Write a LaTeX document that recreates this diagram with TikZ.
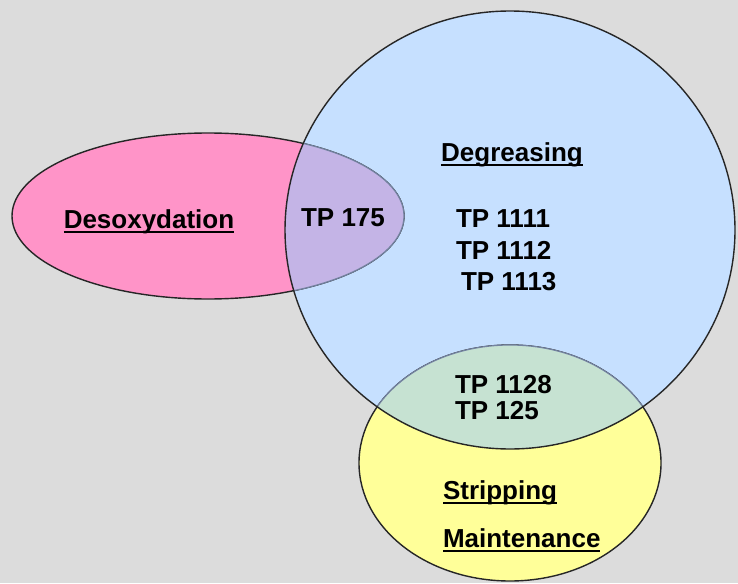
\documentclass[tikz,border=0pt]{standalone}
\usepackage{fontspec}
\setmainfont{Liberation Sans}
\definecolor{bg}{RGB}{220,220,220}
\definecolor{pinkf}{RGB}{255,148,200}
\definecolor{bluef}{RGB}{198,224,255}
\definecolor{yellowf}{RGB}{255,255,153}
\definecolor{purplef}{RGB}{196,180,230}
\definecolor{greenf}{RGB}{198,226,210}
\definecolor{innerline}{RGB}{115,130,160}
\begin{document}
\begin{tikzpicture}[x=1pt,y=-1pt,
  lbl/.style={font=\fontsize{26}{30}\selectfont\bfseries, inner sep=0pt, outer sep=0pt},
  uline/.style={line width=2.2pt, black},
  outline/.style={line width=1.4pt, black!85},
  inline/.style={line width=1.2pt, innerline}]
\fill[bg] (0,0) rectangle (738,583);
\useasboundingbox (0,0) rectangle (738,583);
% fills
\fill[pinkf] (208,216) ellipse [x radius=196, y radius=83];
\fill[bluef] (510,230) ellipse [x radius=225, y radius=219];
\fill[yellowf] (510,463) ellipse [x radius=151, y radius=118];
\draw[outline] (208,216) ellipse [x radius=196, y radius=83];
\draw[outline] (510,463) ellipse [x radius=151, y radius=118];
\begin{scope}
  \clip (510,230) ellipse [x radius=225, y radius=219];
  \fill[purplef] (208,216) ellipse [x radius=196, y radius=83];
  \fill[greenf] (510,463) ellipse [x radius=151, y radius=118];
  \draw[inline] (208,216) ellipse [x radius=196, y radius=83];
  \draw[inline] (510,463) ellipse [x radius=151, y radius=118];
\end{scope}
\draw[outline] (510,230) ellipse [x radius=225, y radius=219];
% labels
\node[lbl, anchor=base] (deso) at (149,228) {Desoxydation};
\draw[uline] ([yshift=-4pt]deso.base west) -- ([yshift=-4pt]deso.base east);
\node[lbl, anchor=base] (tp175) at (343,226) {TP 175};
\node[lbl, anchor=base] (degr) at (512,161) {Degreasing};
\draw[uline] ([yshift=-4pt]degr.base west) -- ([yshift=-4pt]degr.base east);
\node[lbl, anchor=base west] (tpa) at (456,227) {TP 1111};
\node[lbl, anchor=base west] (tpb) at (456,259) {TP 1112};
\node[lbl, anchor=base west] (tpc) at (461,290) {TP 1113};
\node[lbl, anchor=base west] (tpd) at (455,393) {TP 1128};
\node[lbl, anchor=base west] (tpe) at (455,419) {TP 125};
\node[lbl, anchor=base west] (strip) at (443,499) {Stripping};
\draw[uline] ([yshift=-4pt]strip.base west) -- ([yshift=-4pt]strip.base east);
\node[lbl, anchor=base west] (maint) at (443,547) {Maintenance};
\draw[uline] ([yshift=-4pt]maint.base west) -- ([yshift=-4pt]maint.base east);
\end{tikzpicture}
\end{document}
